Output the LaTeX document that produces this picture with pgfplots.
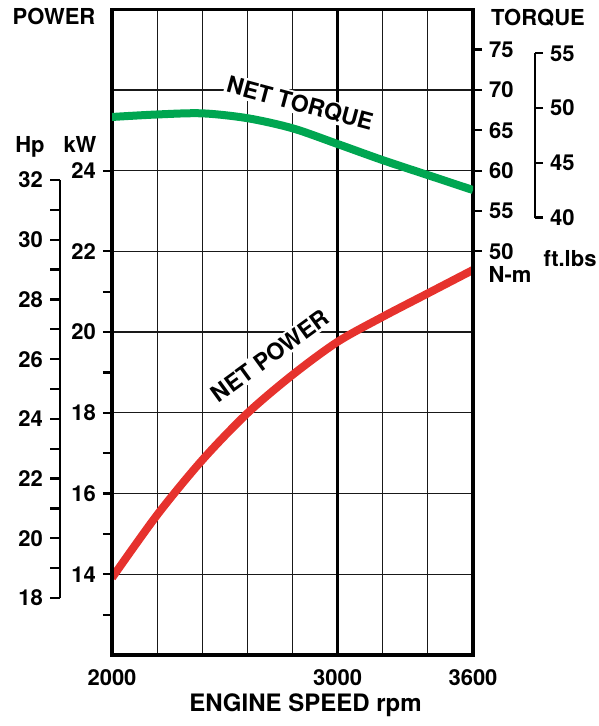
\documentclass[border=0pt]{standalone}
\usepackage{pgfplots}
\pgfplotsset{compat=1.18}
\usepackage{fontspec}
\setmainfont{TeX Gyre Heros}

\definecolor{torquegreen}{RGB}{0,166,81}
\definecolor{powerred}{RGB}{230,50,45}

\pgfplotsset{
  every axis/.append style={
    scale only axis,
    /pgf/number format/assume math mode=true,
    tick label style={font=\bfseries\fontsize{11}{13}\selectfont},
    tick style={black, line width=1.1pt},
  },
}

\begin{document}
\begin{tikzpicture}[font=\bfseries\fontsize{11}{13}\selectfont]
% grid, frame and power curve (kW)
\begin{axis}[
  at={(0pt,0pt)}, anchor=south west,
  width=180.5pt, height=322.9pt,
  xmin=2000, xmax=3600, ymin=12, ymax=28,
  xtick={2000,2200,2400,2600,2800,3200,3400,3600},
  xticklabels={2000,,,,,,,3600},
  extra x ticks={3000}, extra x tick labels={3000},
  extra x tick style={major grid style={black, line width=1.2pt}},
  xticklabel style={yshift=-4pt},
  ytick={14,16,...,26}, yticklabels={},
  grid=major, major grid style={black!90, line width=0.6pt},
  major tick length=0pt,
  axis line style={-, line width=1.6pt},
]
\addplot[powerred, line width=4pt, smooth] coordinates {
  (2000, 13.91) (2200, 15.47) (2400, 16.83) (2600, 17.99) (2800, 18.94)
  (3000, 19.76) (3200, 20.38) (3400, 20.96) (3600, 21.54)
};
\node[fill=white, inner sep=1pt, rotate=36, font=\bfseries\fontsize{11.5}{13}\selectfont]
  at (axis cs:2700,19.42) {NET POWER};
\node[fill=white, inner sep=1pt, rotate=-15, font=\bfseries\fontsize{11.5}{13}\selectfont]
  at (axis cs:2833,25.66) {NET TORQUE};
\end{axis}

% kW ticks
\begin{axis}[
  at={(0pt,0pt)}, anchor=south west,
  width=180.5pt, height=322.9pt,
  xmin=2000, xmax=3600, ymin=12, ymax=28,
  hide x axis, axis y line*=left,
  ytick={14,16,...,24}, minor ytick={13,15,17,19,21},
  tick align=outside, major tick length=4.5pt, minor tick length=4.5pt,
  axis line style={-, line width=1.6pt},
]
\end{axis}

% torque curve (N-m)
\begin{axis}[
  at={(0pt,0pt)}, anchor=south west,
  width=180.5pt, height=322.9pt,
  xmin=2000, xmax=3600, ymin=0, ymax=80,
  hide x axis, axis y line*=right,
  ytick={50,55,...,75},
  tick align=outside, major tick length=4.5pt,
  axis line style={-, line width=1.6pt},
]
\addplot[torquegreen, line width=4pt, smooth] coordinates {
  (2000, 66.65) (2200, 66.96) (2400, 67.10) (2600, 66.50) (2800, 65.25)
  (3000, 63.30) (3200, 61.30) (3400, 59.45) (3600, 57.60)
};
\end{axis}

% Hp scale
\begin{axis}[
  at={(-26pt,28.5pt)}, anchor=south west,
  width=1pt, height=209pt,
  xmin=0, xmax=1, ymin=18, ymax=32,
  hide x axis, axis y line*=left,
  ytick={18,20,...,32}, minor ytick={19,21,...,31},
  tick align=outside, major tick length=5pt, minor tick length=5pt,
  axis line style={-, line width=1.4pt},
]
\end{axis}

% ft.lbs scale
\begin{axis}[
  at={(211.5pt,218.7pt)}, anchor=south east,
  width=1pt, height=82.1pt,
  xmin=0, xmax=1, ymin=40, ymax=55,
  hide x axis, axis y line*=right,
  ytick={40,45,...,55},
  tick align=outside, major tick length=4pt,
  axis line style={-, line width=1.4pt},
]
\end{axis}

\node[anchor=base] at (-29pt,315.25pt) {POWER};
\node[anchor=base] at (213pt,314.5pt) {TORQUE};
\node[anchor=base] at (-41pt,251.2pt) {Hp};
\node[anchor=base] at (-16pt,251.2pt) {kW};
\node[anchor=base] at (229pt,194pt) {ft.lbs};
\node[anchor=base] at (199pt,186pt) {N-m};
\node[anchor=base, font=\bfseries\fontsize{12}{14}\selectfont] at (96.75pt,-28.5pt) {ENGINE SPEED rpm};

\pgfresetboundingbox
\path (-56pt,-35.5pt) rectangle (243pt,327.5pt);
\end{tikzpicture}
\end{document}
